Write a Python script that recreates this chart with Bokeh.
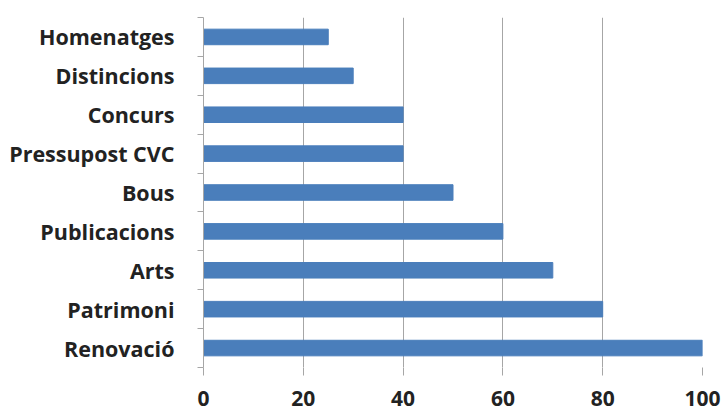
from bokeh.plotting import figure
from bokeh.models import FixedTicker, Range1d, ColumnDataSource
from bokeh.embed import file_html
from bokeh.resources import INLINE

categories = ["Renovació", "Patrimoni", "Arts", "Publicacions", "Bous",
              "Pressupost CVC", "Concurs", "Distincions", "Homenatges"]
values = [100, 80, 70, 60, 50, 40, 40, 30, 25]
x_ticks = [0, 20, 40, 60, 80, 100]

positions = [i + 0.5 for i in range(len(categories))]
source = ColumnDataSource(dict(y=positions, v=values, cat=categories))

p = figure(width=722, height=414, output_backend="svg", toolbar_location=None,
           x_range=Range1d(0, 100), y_range=Range1d(0, len(categories)))
p.min_border_left = 203
p.min_border_right = 20
p.min_border_top = 17
p.min_border_bottom = 47
p.outline_line_color = None
p.background_fill_color = "white"
p.border_fill_color = "white"

p.hbar(y="y", left=0, right="v", height=0.4, source=source,
       fill_color="#4A7EBB", line_color="#4A7EBB", line_width=1)

# x axis
p.xaxis.ticker = FixedTicker(ticks=x_ticks)
p.xaxis.axis_line_color = None
p.xaxis.major_tick_line_color = "#A6A6A6"
p.xaxis.major_tick_out = 8
p.xaxis.major_tick_in = 0
p.xaxis.minor_tick_line_color = None
p.xaxis.major_label_standoff = 15
p.xaxis.major_label_text_font = "Open Sans"
p.xaxis.major_label_text_font_style = "bold"
p.xaxis.major_label_text_font_size = "21px"
p.xaxis.major_label_text_color = "#222222"

# y axis
p.yaxis.ticker = FixedTicker(ticks=positions,
                             minor_ticks=list(range(len(categories) + 1)))
p.yaxis.major_label_overrides = {pos: c for pos, c in zip(positions, categories)}
p.yaxis.axis_line_color = "#A6A6A6"
p.yaxis.major_tick_line_color = None
p.yaxis.major_tick_out = 0
p.yaxis.major_tick_in = 0
p.yaxis.minor_tick_line_color = "#A6A6A6"
p.yaxis.minor_tick_out = 6
p.yaxis.minor_tick_in = 0
p.yaxis.major_label_standoff = 23
p.yaxis.major_label_text_font = "Open Sans"
p.yaxis.major_label_text_font_style = "bold"
p.yaxis.major_label_text_font_size = "21.5px"
p.yaxis.major_label_text_color = "#222222"

p.xgrid.ticker = FixedTicker(ticks=x_ticks[1:])
p.xgrid.grid_line_color = "#A6A6A6"
p.xgrid.grid_line_width = 1
p.ygrid.grid_line_color = None

open("out.html", "w").write(file_html(p, INLINE))
